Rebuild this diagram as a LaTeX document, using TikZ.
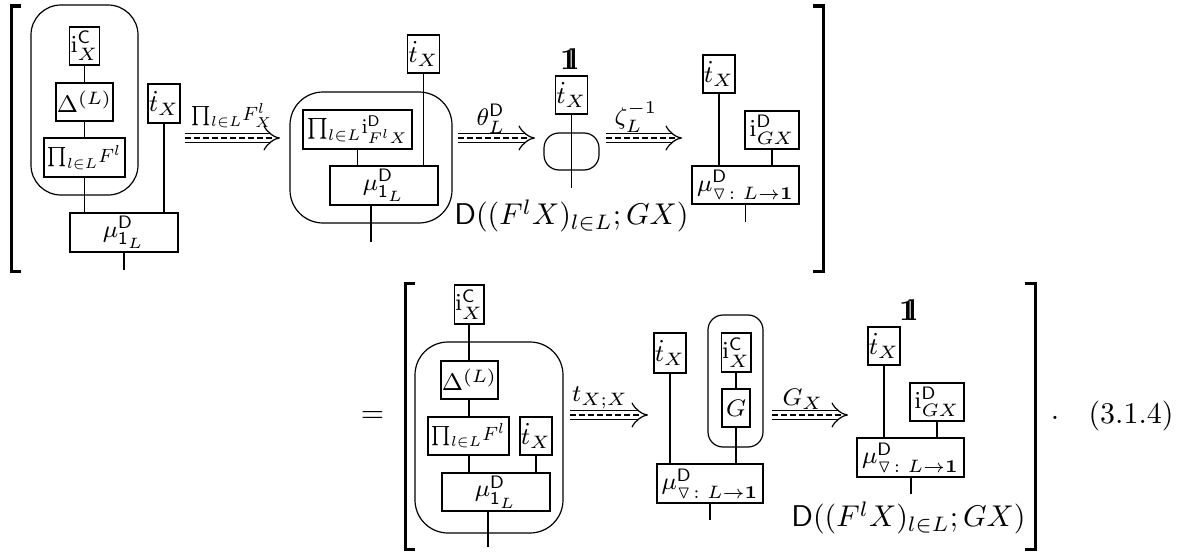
\documentclass[tikz,border=0pt]{standalone}
\usepackage{amsmath,amssymb}
\usepackage{graphicx}
\usetikzlibrary{arrows.meta}
\newdimen\px \px=0.33333pt
\newcommand{\dsone}{\mathbf{1}\mkern-5.5mu\mathbf{l}}
\newcommand{\prodL}{\prod\nolimits_{l\in L}\!}
\newcommand{\shr}[2]{\scalebox{#1}{#2}}
\tikzset{
 bx/.style={draw, inner sep=0.3pt, line width=0.4pt, font=\footnotesize},
 rbx/.style={draw, rounded corners=#1, inner sep=0pt, line width=0.4pt},
 wire/.style={line width=0.4pt},
 brk/.style={line width=1pt},
 tarr/.style={double, double distance=2.6pt, line width=0.4pt, -{Implies}},
 tmid/.style={line width=0.4pt, dash pattern=on 2pt off 1pt},
 lbl/.style={inner sep=0pt},
 albl/.style={inner sep=0pt, font=\footnotesize},
}
\newcommand{\Tarrow}[2]{%
 \draw[tarr] (#1) -- (#2);
 \draw[tmid] (#1) -- ([xshift=-2.2pt]#2);}
\begin{document}
\begin{tikzpicture}[x=\px, y=-\px]
\useasboundingbox (0,0) rectangle (1180,552);
% ---------- brackets ----------
\draw[brk] (21,6) -- (11,6) -- (11,271) -- (21,271);
\draw[brk] (813,6) -- (823,6) -- (823,271) -- (813,271);
\draw[brk] (415,283) -- (405,283) -- (405,549) -- (415,549);
\draw[brk] (1025,283) -- (1035,283) -- (1035,549) -- (1025,549);
% ---------- diagram A ----------
\node[rbx=10pt, minimum width=107*\px, minimum height=190*\px] (RA) at (84.5,100) {};
\node[bx, minimum width=29*\px, minimum height=38*\px] (icA) at (84.5,46) {$\mathrm{i}^{\mathsf{C}}_X$};
\node[bx, minimum width=55*\px, minimum height=38*\px] (dA) at (84.5,102) {$\Delta^{(L)}$};
\node[bx, minimum width=81*\px, minimum height=39*\px] (pA) at (84.5,157.5) {\shr{0.8}{$\prodL F^l$}};
\node[bx, minimum width=28*\px, minimum height=39*\px] (tA) at (164,103.5) {$\dot t_X$};
\node[bx, minimum width=108*\px, minimum height=39*\px] (mA) at (124,232.5) {$\mu^{\mathsf{D}}_{\mathsf{1}_L}$};
\coordinate (oA) at (124,270);
\draw[wire] (icA) -- (dA);
\draw[wire] (dA) -- (pA);
\draw[wire] (pA.south) -- (pA.south |- mA.north);
\draw[wire] (tA.south) -- (tA.south |- mA.north);
\draw[wire] (mA.south) -- (oA);
% arrow 1
\coordinate (a1s) at (185,138); \coordinate (a1e) at (280,138);
\Tarrow{a1s}{a1e}
\node[albl] (l1) at (232,116) {\shr{0.8}{$\prodL F^l_X$}};
% ---------- diagram B ----------
\node[rbx=11pt, minimum width=162*\px, minimum height=131*\px] (RB) at (371,157.5) {};
\node[bx, minimum width=29*\px, minimum height=38*\px] (tB) at (423.5,54) {$\dot t_X$};
\node[bx, minimum width=109*\px, minimum height=39*\px] (pB) at (357.5,129.5) {\shr{0.86}{$\prodL\mathrm{i}^{\mathsf{D}}_{F^lX}$}};
\node[bx, minimum width=108*\px, minimum height=39*\px] (mB) at (384,185.5) {$\mu^{\mathsf{D}}_{\mathsf{1}_L}$};
\coordinate (oB) at (371,242);
\draw[wire] (pB.south) -- (pB.south |- mB.north);
\draw[wire] (tB.south) -- (tB.south |- mB.north);
\draw[wire] (mB.south -| oB) -- (oB);
% arrow 2
\coordinate (a2s) at (458,138); \coordinate (a2e) at (535,138);
\Tarrow{a2s}{a2e}
\node[albl] (l2) at (491,119) {$\theta^{\mathsf{D}}_L$};
% ---------- diagram C ----------
\node[inner sep=0pt] (oneC) at (569,59) {$\dsone$};
\node[bx, minimum width=27*\px, minimum height=38*\px] (tC) at (571.5,95) {$\dot t_X$};
\node[rbx=5pt, minimum width=55*\px, minimum height=37*\px] (ovC) at (571.5,151.5) {};
\coordinate (oC) at (571.5,188);
\draw[wire] (tC.south) -- (oC);
\node[lbl] (DC) at (571.5,216) {$\mathsf{D}((F^lX)_{l\in L};GX)$};
% arrow 3
\coordinate (a3s) at (606,138); \coordinate (a3e) at (682,138);
\Tarrow{a3s}{a3e}
\node[albl] (l3) at (636,117) {$\zeta_L^{-1}$};
% ---------- diagram D ----------
\node[bx, minimum width=28*\px, minimum height=38*\px] (tD) at (719,74) {$\dot t_X$};
\node[bx, minimum width=54*\px, minimum height=38*\px] (iD) at (772,130) {$\mathrm{i}^{\mathsf{D}}_{GX}$};
\node[bx, minimum width=107*\px, minimum height=38*\px] (mD) at (745.5,185) {$\mu^{\mathsf{D}}_{\triangledown\colon L\to\mathbf{1}}$};
\coordinate (oD) at (745.5,222);
\draw[wire] (tD.south) -- (tD.south |- mD.north);
\draw[wire] (iD.south) -- (iD.south |- mD.north);
\draw[wire] (mD.south) -- (oD);
% ---------- second line ----------
\node[lbl] (eq) at (372.5,417) {$=$};
% diagram E
\node[rbx=11pt, minimum width=148*\px, minimum height=191*\px] (RE) at (489,437.5) {};
\node[bx, minimum width=28*\px, minimum height=39*\px] (icE) at (469,304.5) {$\mathrm{i}^{\mathsf{C}}_X$};
\node[bx, minimum width=55*\px, minimum height=38*\px] (dE) at (469.5,380) {$\Delta^{(L)}$};
\node[bx, minimum width=81*\px, minimum height=38*\px] (pE) at (468.5,436) {\shr{0.8}{$\prodL F^l$}};
\node[bx, minimum width=28*\px, minimum height=38*\px] (tE) at (536,436) {$\dot t_X$};
\node[bx, minimum width=108*\px, minimum height=38*\px] (mE) at (496,492) {$\mu^{\mathsf{D}}_{\mathsf{1}_L}$};
\coordinate (oE) at (488,547);
\draw[wire] (icE.south) -- (icE.south |- dE.north);
\draw[wire] (icE.south |- dE.south) -- (icE.south |- pE.north);
\draw[wire] (icE.south |- pE.south) -- (icE.south |- mE.north);
\draw[wire] (tE.south) -- (tE.south |- mE.north);
\draw[wire] (mE.south -| oE) -- (oE);
% arrow 4
\coordinate (a4s) at (570,415); \coordinate (a4e) at (648,415);
\Tarrow{a4s}{a4e}
\node[albl] (l4) at (600,398) {$t_{X;X}$};
% diagram F
\node[rbx=5pt, minimum width=55*\px, minimum height=132*\px] (RF) at (735.5,381) {};
\node[bx, minimum width=28*\px, minimum height=40*\px] (tF) at (670,353) {$\dot t_X$};
\node[bx, minimum width=28*\px, minimum height=39*\px] (icF) at (736,352.5) {$\mathrm{i}^{\mathsf{C}}_X$};
\node[bx, minimum width=28*\px, minimum height=38*\px] (gF) at (736,408) {$G$};
\node[bx, minimum width=106*\px, minimum height=39*\px] (mF) at (710,483.5) {$\mu^{\mathsf{D}}_{\triangledown\colon L\to\mathbf{1}}$};
\coordinate (oF) at (710,520);
\draw[wire] (tF.south) -- (tF.south |- mF.north);
\draw[wire] (icF) -- (gF);
\draw[wire] (gF.south) -- (gF.south |- mF.north);
\draw[wire] (mF.south) -- (oF);
% arrow 5
\coordinate (a5s) at (772,415); \coordinate (a5e) at (848,415);
\Tarrow{a5s}{a5e}
\node[albl] (l5) at (803,399) {$G_X$};
% diagram G
\node[inner sep=0pt] (oneG) at (908,310) {$\dsone$};
\node[bx, minimum width=28*\px, minimum height=38*\px] (tG) at (884,346) {$\dot t_X$};
\node[bx, minimum width=54*\px, minimum height=38*\px] (iG) at (937,402) {$\mathrm{i}^{\mathsf{D}}_{GX}$};
\node[bx, minimum width=107*\px, minimum height=39*\px] (mG) at (910.5,457.5) {$\mu^{\mathsf{D}}_{\triangledown\colon L\to\mathbf{1}}$};
\coordinate (oG) at (911,494);
\draw[wire] (tG.south) -- (tG.south |- mG.north);
\draw[wire] (iG.south) -- (iG.south |- mG.north);
\draw[wire] (mG.south -| oG) -- (oG);
\node[lbl] (DG) at (908.5,518) {$\mathsf{D}((F^lX)_{l\in L};GX)$};
% tail
\node[lbl] (dot) at (1055,418) {$.$};
\node[lbl] (num) at (1131,416) {$(3.1.4)$};
\end{tikzpicture}
\end{document}
